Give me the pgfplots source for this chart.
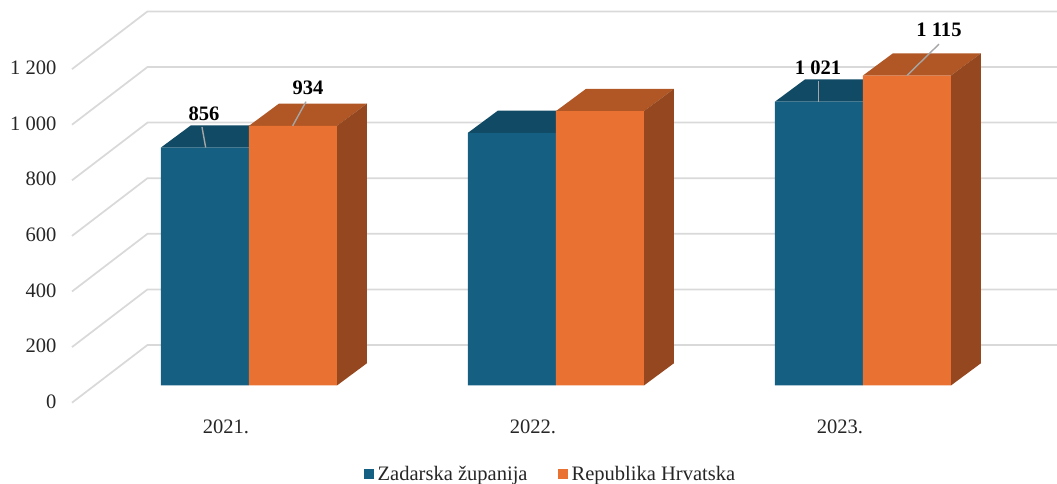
\documentclass[border=0pt]{standalone}
\usepackage{fontspec}
\setmainfont{Liberation Serif}
\usepackage{pgfplots}
\pgfplotsset{compat=1.18}
\definecolor{blueF}{HTML}{156082}
\definecolor{blueT}{HTML}{114A64}
\definecolor{oranF}{HTML}{E97132}
\definecolor{oranT}{HTML}{B05725}
\definecolor{oranS}{HTML}{95481F}
\definecolor{gridc}{HTML}{D9D9D9}
\definecolor{leadc}{HTML}{A6A6A6}
\definecolor{txt}{HTML}{262626}
\begin{document}
\begin{tikzpicture}
\useasboundingbox (0pt,0pt) rectangle (792.75pt,363pt);
% walls and value axis
\begin{axis}[
  at={(54pt,60.98pt)}, anchor=south west,
  scale only axis, width=738.75pt, height=302pt,
  xmin=72, xmax=1057, ymin=0, ymax=1448.6,
  axis line style={draw=none}, xtick=\empty,
  ytick={0,200,400,600,800,1000,1200},
  major tick length=0pt,
  ytick style={draw=none},
  /pgf/number format/assume math mode=true,
  /pgf/number format/1000 sep={\ },
  yticklabel style={font=\fontsize{15.4}{18}\selectfont, text=txt, anchor=east, inner sep=0pt, xshift=-11.5pt, yshift=0.8pt},
  clip=false, no markers,
]
\addplot[gridc, line width=1.3pt] coordinates {(72,0) (147.5,207.6) (1057,207.6)};
\addplot[gridc, line width=1.3pt] coordinates {(72,200) (147.5,407.6) (1057,407.6)};
\addplot[gridc, line width=1.3pt] coordinates {(72,400) (147.5,607.6) (1057,607.6)};
\addplot[gridc, line width=1.3pt] coordinates {(72,600) (147.5,807.6) (1057,807.6)};
\addplot[gridc, line width=1.3pt] coordinates {(72,800) (147.5,1007.6) (1057,1007.6)};
\addplot[gridc, line width=1.3pt] coordinates {(72,1000) (147.5,1207.6) (1057,1207.6)};
\addplot[gridc, line width=1.3pt] coordinates {(72,1200) (147.5,1407.6) (1057,1407.6)};
\end{axis}
% bars
\begin{axis}[
  at={(0pt,73.9pt)}, anchor=south west,
  scale only axis, width=792.75pt, height=289.1pt,
  xmin=-0.811, xmax=2.632, ymin=0, ymax=1386.7,
  axis line style={draw=none},
  ytick=\empty,
  xtick={-0.075,0.925,1.925},
  xticklabels={2021.,2022.,2023.},
  major tick length=0pt,
  xtick style={draw=none},
  xticklabel style={font=\fontsize{15.4}{18}\selectfont, text=txt, anchor=center, yshift=-31pt},
  clip=false, no markers,
  legend columns=2,
  legend style={draw=none, fill=none, at={(0.5217,-0.2295)}, anchor=center,
    font=\fontsize{15.4}{18}\selectfont, text=txt,
    /tikz/every even column/.append style={column sep=20.5pt},
    nodes={inner sep=2.5pt}},
  legend cell align=left,
  legend image code/.code={\fill[#1] (0pt,-3.75pt) rectangle (7.5pt,3.75pt);},
]
% Zadarska zupanija: top faces
\addplot[fill=blueT, draw=none, forget plot] coordinates {(-0.2866,856) (0,856) (0.0977,936) (-0.1889,936)} -- cycle;
\addplot[fill=blueT, draw=none, forget plot] coordinates {(0.7134,909) (1,909) (1.0977,989) (0.8111,989)} -- cycle;
\addplot[fill=blueT, draw=none, forget plot] coordinates {(1.7134,1021) (2,1021) (2.0977,1101) (1.8111,1101)} -- cycle;
\addplot[ybar, bar width=66pt, bar shift=-33pt, fill=blueF, draw=none] coordinates {(0,856) (1,909) (2,1021)};
\addlegendentry{Zadarska županija}
% Republika Hrvatska: top and side faces
\addplot[fill=oranT, draw=none, forget plot] coordinates {(0,934) (0.2866,934) (0.3843,1014) (0.0977,1014)} -- cycle;
\addplot[fill=oranT, draw=none, forget plot] coordinates {(1,987) (1.2866,987) (1.3843,1067) (1.0977,1067)} -- cycle;
\addplot[fill=oranT, draw=none, forget plot] coordinates {(2,1115) (2.2866,1115) (2.3843,1195) (2.0977,1195)} -- cycle;
\addplot[fill=oranS, draw=none, forget plot] coordinates {(0.2866,0) (0.3843,80) (0.3843,1014) (0.2866,934)} -- cycle;
\addplot[fill=oranS, draw=none, forget plot] coordinates {(1.2866,0) (1.3843,80) (1.3843,1067) (1.2866,987)} -- cycle;
\addplot[fill=oranS, draw=none, forget plot] coordinates {(2.2866,0) (2.3843,80) (2.3843,1195) (2.2866,1115)} -- cycle;
\addplot[ybar, bar width=66pt, bar shift=33pt, fill=oranF, draw=none] coordinates {(0,934) (1,987) (2,1115)};
\addlegendentry{Republika Hrvatska}
% leader lines
\addplot[leadc, line width=1.05pt, forget plot] coordinates {(-0.1531,930) (-0.141,856)};
\addplot[leadc, line width=1.05pt, forget plot] coordinates {(0.1857,1021) (0.1423,934)};
\addplot[leadc, line width=1.05pt, forget plot] coordinates {(1.8557,1095) (1.8557,1021)};
\addplot[leadc, line width=1.05pt, forget plot] coordinates {(2.2476,1228) (2.1433,1115)};
% data labels
\node[font=\fontsize{15.4}{18}\selectfont\bfseries] at (axis cs:-0.1466,978) {856};
\node[font=\fontsize{15.4}{18}\selectfont\bfseries] at (axis cs:0.1922,1072) {934};
\node[font=\fontsize{15.4}{18}\selectfont\bfseries] at (axis cs:1.8534,1144) {1 021};
\node[font=\fontsize{15.4}{18}\selectfont\bfseries] at (axis cs:2.2476,1279) {1 115};
\end{axis}
\end{tikzpicture}
\end{document}
